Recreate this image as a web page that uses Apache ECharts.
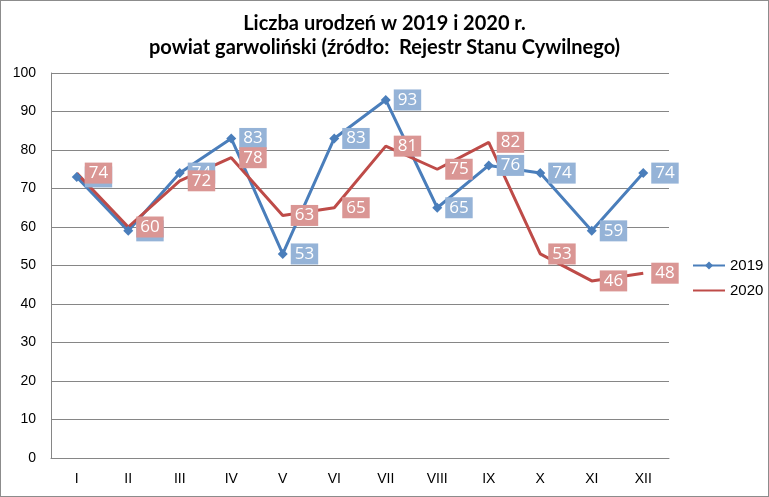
<!DOCTYPE html>
<html>
<head>
<meta charset="utf-8">
<script src="https://cdn.jsdelivr.net/npm/echarts@6/dist/echarts.min.js"></script>
<style>
  html, body { margin: 0; padding: 0; background: #fff; }
  #chart { width: 767px; height: 495px; border: 1px solid #8c8c8c; }
</style>
</head>
<body>
<div id="chart"></div>
<script>
// dane: liczba urodzeń wg miesięcy
const months = ['I', 'II', 'III', 'IV', 'V', 'VI', 'VII', 'VIII', 'IX', 'X', 'XI', 'XII']
const births2019 = [73, 59, 74, 83, 53, 83, 93, 65, 76, 74, 59, 74]
const births2020 = [74, 60, 72, 78, 63, 65, 81, 75, 82, 53, 46, 48]

const chart = echarts.init(document.getElementById('chart'))

const boxLabel = (bg, dist) => ({
  show: true, position: 'right', distance: dist,
  color: '#fff', fontSize: 17, fontFamily: 'Open Sans',
  backgroundColor: bg, padding: [3, 4, 1, 4]
})

chart.setOption({
  animation: false,
  title: {
    text: 'Liczba urodzeń w 2019 i 2020 r.\npowiat garwoliński (źródło:  Rejestr Stanu Cywilnego)',
    left: 'center', top: 6,
    textStyle: { fontFamily: 'Lato', fontWeight: 'bold', fontSize: 20, lineHeight: 24, color: '#000' }
  },
  legend: {
    orient: 'vertical', left: 686, top: 252, itemWidth: 32, itemHeight: 10, itemGap: 10,
    textStyle: { fontFamily: 'Liberation Sans', fontSize: 15, color: '#000' },
    data: ['2019', { name: '2020', itemStyle: { opacity: 0 } }]
  },
  grid: { left: 50, right: 99, top: 72, bottom: 38 },
  xAxis: {
    type: 'category', data: months,
    axisLine: { lineStyle: { color: '#868686' } },
    axisTick: { show: false },
    axisLabel: { margin: 14, fontFamily: 'Liberation Sans', fontSize: 14, color: '#000' }
  },
  yAxis: {
    type: 'value', min: 0, max: 100, interval: 10,
    axisLine: { show: true, lineStyle: { color: '#868686' } },
    axisLabel: { margin: 15, fontFamily: 'Liberation Sans', fontSize: 14, color: '#000' },
    splitLine: { lineStyle: { color: '#868686' } }
  },
  series: [
    {
      name: '2019', type: 'line', data: births2019,
      symbol: 'diamond', symbolSize: 10,
      lineStyle: { width: 3, color: '#4a7ebb' }, itemStyle: { color: '#4a7ebb' },
      label: boxLabel('#95b3d7', 3)
    },
    {
      name: '2020', type: 'line', data: births2020,
      symbol: 'circle', symbolSize: 0,
      lineStyle: { width: 3, color: '#be4b48' }, itemStyle: { color: '#be4b48' },
      label: boxLabel('#da9694', 8)
    }
  ]
})
</script>
</body>
</html>
